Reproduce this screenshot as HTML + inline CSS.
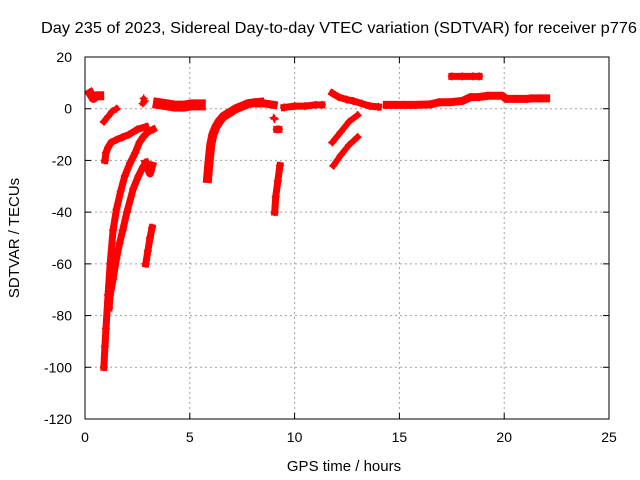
<!DOCTYPE html>
<html><head><meta charset="utf-8"><style>
body{margin:0;background:#fff}
svg{display:block;font-family:"Liberation Sans",sans-serif}
</style></head><body>
<svg id="chart" width="640" height="480" viewBox="0 0 640 480">
<rect x="0" y="0" width="640" height="480" fill="#fff"/>
<text x="41" y="33" font-size="16" textLength="596" lengthAdjust="spacingAndGlyphs">Day 235 of 2023, Sidereal Day-to-day VTEC variation (SDTVAR) for receiver p776</text>
<g id="grid"></g>
<g id="series"></g>
<rect x="85" y="57" width="524" height="362" fill="none" stroke="#000" stroke-width="1"/>
<g id="axes"></g>
<text x="344" y="471" font-size="15" text-anchor="middle">GPS time / hours</text>
<text transform="translate(19,238) rotate(-90)" font-size="15" text-anchor="middle">SDTVAR / TECUs</text>
</svg>
<script>
const xTicks=[0,5,10,15,20,25];
const yTicks=[20,0,-20,-40,-60,-80,-100,-120];
// tracks: hours and values
const trackHours=[
 [0.25,0.4,0.55,0.7],
 [0.9,1.1,1.3,1.5],
 [0.95,1.0,1.1,1.25,1.5,1.8,2.1,2.5,2.9],
 [0.9,0.95,1.0,1.1,1.2,1.34,1.5,1.7,1.9,2.15,2.4,2.6,2.77,3.0,3.25],
 [1.15,1.2,1.34,1.5,1.65,1.8,2.0,2.3,2.55,2.77,2.9],
 [2.9,3.0,3.1,3.2],
 [2.9,3.0,3.1,3.2],
 [2.75,2.8,2.85],
 [3.5,3.9,4.3,4.7,5.1,5.5],
 [5.85,5.9,5.95,6.0,6.1,6.25,6.4,6.6,6.8,7.0,7.2,7.5,7.8,8.1,8.35],
 [8.3,8.6,9.0],
 [9.0,9.05],
 [9.15,9.25],
 [9.05,9.1,9.2,9.3],
 [9.5,10.0,10.5,11.0,11.3],
 [11.8,12.1,12.5,12.8,13.2,13.6,14.0],
 [11.8,12.2,12.6,13.0],
 [11.85,12.2,12.6,13.0],
 [14.4,14.8,15.2,15.8,16.5,16.9,17.4,18.0,18.4,18.8,19.2,19.9,20.1,20.6,21.1,21.3,21.7,22.0],
 [17.5,18.0,18.5,18.8]
];
const trackValues=[
 [6,4,5,5],
 [-5,-3,-1,0],
 [-20,-17,-15,-13,-12,-11,-10,-8,-7],
 [-100,-92,-85,-72,-60,-47,-39,-32,-26,-21,-17,-13,-11,-9,-8],
 [-77,-72,-66,-58,-52,-47,-40,-31,-26,-22.5,-21],
 [-21,-23,-25,-22],
 [-60,-55,-50,-46],
 [2,4,3],
 [2,1.5,1,1,1.5,1.5],
 [-27,-22,-18,-14,-10,-7,-5,-3,-2,-1,0,1,2,2.3,2.5],
 [2,2,1.5],
 [-3.5,-4],
 [-8,-8],
 [-40,-34,-28,-22],
 [0.5,1,1,1.5,1.5],
 [6,4.5,3.5,3,2,1,0.7],
 [-13,-9,-5,-2.5],
 [-22,-18,-14,-11],
 [1.5,1.5,1.5,1.5,1.7,2.5,2.5,3,4.5,4.5,5,5,3.8,3.8,3.8,4,4,4],
 [12.5,12.5,12.5,12.5]
];
const trackWidths=[9,6,7,7,7,8,7,5,11,9,8,4,7,7,7,7,6,6,8,7];
const NS='http://www.w3.org/2000/svg';
const X0=85,X1=609,Y0=57,Y1=419;
function xs(h){return X0+(h-0)/25*(X1-X0);}
function ys(v){return Y0+(20-v)/140*(Y1-Y0);}
const grid=document.getElementById('grid'),axes=document.getElementById('axes'),ser=document.getElementById('series');
function mk(tag,attrs,parent){const e=document.createElementNS(NS,tag);for(const k in attrs)e.setAttribute(k,attrs[k]);parent.appendChild(e);return e;}
xTicks.forEach(t=>{
 const x=xs(t);
 if(t>0&&t<25){const g=mk('line',{x1:x,x2:x,y1:Y0,y2:Y1,stroke:'#a0a0a0','stroke-dasharray':'2,3'},grid);
 
 }
 mk('line',{x1:x,x2:x,y1:Y1,y2:Y1-6,stroke:'#000'},axes);
 mk('line',{x1:x,x2:x,y1:Y0,y2:Y0+6,stroke:'#000'},axes);
 const tx=mk('text',{x:x,y:Y1+23,'font-size':14,'text-anchor':'middle'},axes);
 tx.textContent=t;
 
 
});
yTicks.forEach(t=>{
 const y=ys(t);
 if(t<20&&t>-120){const g=mk('line',{x1:X0,x2:X1,y1:y,y2:y,stroke:'#a0a0a0','stroke-dasharray':'2,3'},grid);
 
 }
 mk('line',{x1:X0,x2:X0+6,y1:y,y2:y,stroke:'#000'},axes);
 mk('line',{x1:X1,x2:X1-6,y1:y,y2:y,stroke:'#000'},axes);
 const tx=mk('text',{x:X0-13,y:y+5,'font-size':14,'text-anchor':'end'},axes);
 tx.textContent=t;
 
 
});
trackHours.forEach((hs,i)=>{
 const vs=trackValues[i];
 const pts=hs.map((h,j)=>xs(h)+','+ys(vs[j])).join(' ');
 const pl=mk('polyline',{points:pts,fill:'none',stroke:'#f00','stroke-width':trackWidths[i],'stroke-linejoin':'round','stroke-linecap':'square'},ser);
 
 
 hs.forEach((h,j)=>{
  const x=xs(h),y=ys(vs[j]);
  const p=mk('path',{d:`M${x-4},${y}H${x+4}M${x},${y-4}V${y+4}`,stroke:'#f00','stroke-width':1.5},ser);
  
  
 });
});
</script>
</body></html>
